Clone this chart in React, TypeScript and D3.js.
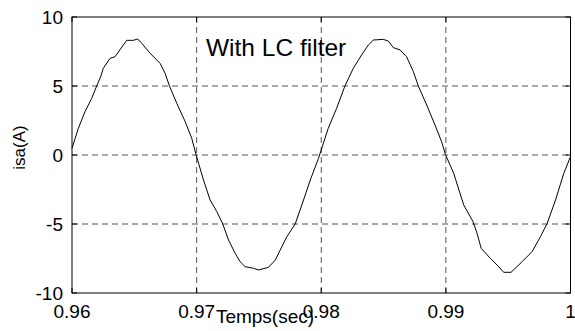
import React from "react";
import * as d3 from "d3";

const timeSec = [
  0.96, 0.96051, 0.96104, 0.96158, 0.96198, 0.9623, 0.96251, 0.96305, 0.96345, 0.96412,
  0.96439, 0.96493, 0.96527, 0.9656, 0.96627, 0.96707, 0.96747, 0.96782, 0.96841, 0.96908,
  0.96961, 0.96996, 0.97055, 0.97108, 0.97162, 0.9721, 0.97256, 0.97309, 0.97349, 0.97389,
  0.97456, 0.97496, 0.97577, 0.97631, 0.97671, 0.97724, 0.97791, 0.97858, 0.97912, 0.97978,
  0.98056, 0.98123, 0.9819, 0.98257, 0.98324, 0.98378, 0.98418, 0.98498, 0.98538, 0.98578,
  0.98632, 0.98685, 0.98739, 0.98779, 0.98846, 0.98913, 0.98966, 0.98996, 0.99063, 0.99143,
  0.99218, 0.9925, 0.99283, 0.99357, 0.99424, 0.99464, 0.99523, 0.99612, 0.99692, 0.99759,
  0.99813, 0.9988, 0.99946, 1.0,
];
const isaValues = [
  0.49, 1.93, 3.14, 4.1, 5.0, 5.67, 6.28, 7.0, 7.12, 7.97,
  8.31, 8.31, 8.41, 8.09, 7.37, 6.64, 5.92, 5.0, 3.74, 2.42,
  1.21, 0.0, -1.81, -3.26, -4.1, -5.0, -6.16, -7.12, -7.73, -8.09,
  -8.21, -8.33, -8.14, -7.61, -6.88, -5.92, -5.0, -3.26, -1.81, -0.24,
  1.93, 3.38, 5.0, 6.28, 7.25, 7.97, 8.33, 8.38, 8.26, 7.78,
  7.61, 7.12, 6.04, 5.0, 3.62, 2.17, 0.96, 0.05, -1.33, -3.62,
  -4.83, -5.67, -6.76, -7.49, -8.09, -8.5, -8.5, -7.73, -7.0, -5.92,
  -4.95, -3.26, -1.33, -0.12,
];
const xTicks = [0.96, 0.97, 0.98, 0.99, 1.0];
const xTickLabels = ["0.96", "0.97", "0.98", "0.99", "1"];
const yTicks = [-10, -5, 0, 5, 10];
const yTickLabels = ["-10", "-5", "0", "5", "10"];
const titleText = "With LC filter";
const xLabel = "Temps(sec)";
const yLabel = "isa(A)";

export default function App() {
  const W = 575, H = 331;
  const left = 72, right = 570.5, top = 17, bottom = 293;
  const x = d3.scaleLinear().domain([0.96, 1.0]).range([left, right]);
  const y = d3.scaleLinear().domain([-10, 10]).range([bottom, top]);
  const line = d3.line<number>().x((_, i) => x(timeSec[i])).y((v) => y(v));
  const font = "'Liberation Sans', Arial, Helvetica, sans-serif";
  const tl = 5;
  return (
    <svg width={W} height={H} style={{ position: "absolute", left: 0, top: 0, background: "#fff" }}>
      <rect x={0} y={0} width={W} height={H} fill="#fff" />
      {/* grid */}
      {xTicks.slice(1, -1).map((t) => (
        <line key={"gx" + t} x1={x(t)} x2={x(t)} y1={top} y2={bottom} stroke="#555" strokeWidth={1} strokeDasharray="6,4" />
      ))}
      {yTicks.slice(1, -1).map((t) => (
        <line key={"gy" + t} x1={left} x2={right} y1={y(t)} y2={y(t)} stroke="#555" strokeWidth={1} strokeDasharray="6,4" />
      ))}
      {/* curve */}
      <path d={line(isaValues) || ""} fill="none" stroke="#000" strokeWidth={1} />
      {/* box */}
      <rect x={left} y={top} width={right - left} height={bottom - top} fill="none" stroke="#000" strokeWidth={1} />
      {/* ticks */}
      {xTicks.map((t) => (
        <g key={"tx" + t}>
          <line x1={x(t)} x2={x(t)} y1={bottom} y2={bottom - tl} stroke="#000" />
          <line x1={x(t)} x2={x(t)} y1={top} y2={top + tl} stroke="#000" />
        </g>
      ))}
      {yTicks.map((t) => (
        <g key={"ty" + t}>
          <line x1={left} x2={left + tl} y1={y(t)} y2={y(t)} stroke="#000" />
          <line x1={right} x2={right - tl} y1={y(t)} y2={y(t)} stroke="#000" />
        </g>
      ))}
      {/* tick labels */}
      {xTicks.map((t, i) => (
        <text key={"lx" + t} x={x(t)} y={318} fontSize={19} fontFamily={font} textAnchor="middle" fill="#000">
          {xTickLabels[i]}
        </text>
      ))}
      {yTicks.map((t, i) => (
        <text key={"ly" + t} x={63} y={y(t) + 7} fontSize={19} fontFamily={font} textAnchor="end" fill="#000">
          {yTickLabels[i]}
        </text>
      ))}
      {/* title inside */}
      <text x={206} y={56} fontSize={24.5} fontFamily={font} fill="#000">{titleText}</text>
      {/* axis labels */}
      <text x={265} y={323} fontSize={19} fontFamily={font} textAnchor="middle" fill="#000">{xLabel}</text>
      <text transform="translate(25,147.5) rotate(-90)" fontSize={17} fontFamily={font} textAnchor="middle" fill="#000">{yLabel}</text>
    </svg>
  );
}
